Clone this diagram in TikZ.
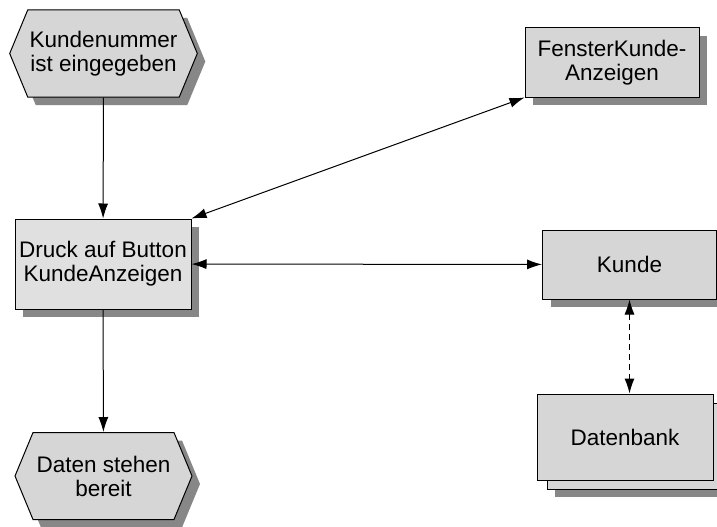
\documentclass[tikz,border=0pt]{standalone}
\usepackage{fontspec}
\setmainfont{Liberation Sans}
\usetikzlibrary{shapes.symbols, shadows, arrows.meta}
\definecolor{boxgray}{RGB}{214,214,214}
\definecolor{fngray}{RGB}{224,224,224}
\definecolor{shadowgray}{RGB}{135,135,135}
\tikzset{>={Latex[length=15pt,width=10pt]},
  flow/.style={line width=1pt},
  plainbox/.style={draw, line width=1pt, fill=boxgray, align=center, inner sep=2pt,
    font=\fontsize{22.5}{24}\selectfont},
  box/.style={plainbox,
    drop shadow={shadow xshift=8pt, shadow yshift=-8pt, fill=shadowgray, opacity=1}},
  event/.style={box, shape=signal, signal to=east and west, signal pointer angle=135,
    minimum width=177pt, minimum height=87pt},
  func/.style={box, fill=fngray, minimum width=176pt, minimum height=90pt},
  obj/.style={box, minimum width=174pt, minimum height=69pt},
  store/.style={plainbox, minimum width=176pt, minimum height=86pt}
}

\begin{document}
\begin{tikzpicture}[x=1pt, y=-1pt]
\useasboundingbox[fill=white] (0,0) rectangle (717,527);
\node[event] (ev1) at (103.5,53.5) {Kundenummer\\ist eingegeben};
\node[func] (fn) at (103,264) {Druck auf Button\\KundeAnzeigen};
\node[event] (ev2) at (103.5,476) {Daten stehen\\bereit};
\node[obj] (fenster) at (612,62.5) {FensterKunde-\\Anzeigen};
\node[obj] (kunde) at (629.5,264.5) {Kunde};
% Datenbank: zweites Blatt dahinter
\node[store, box] (dbback) at (635,446) {};
\node[store] (db) at (625,437) {Datenbank};
\draw[flow, ->] (ev1) -- (fn);
\draw[flow, ->] (fn) -- (ev2);
\draw[flow, <->] (fn.north east) -- (fenster.south west);
\draw[flow, <->] (fn) -- (kunde);
\draw[flow, <->, dash pattern=on 6pt off 4pt] (kunde.south) -- (kunde.south |- db.north);
\end{tikzpicture}
\end{document}
